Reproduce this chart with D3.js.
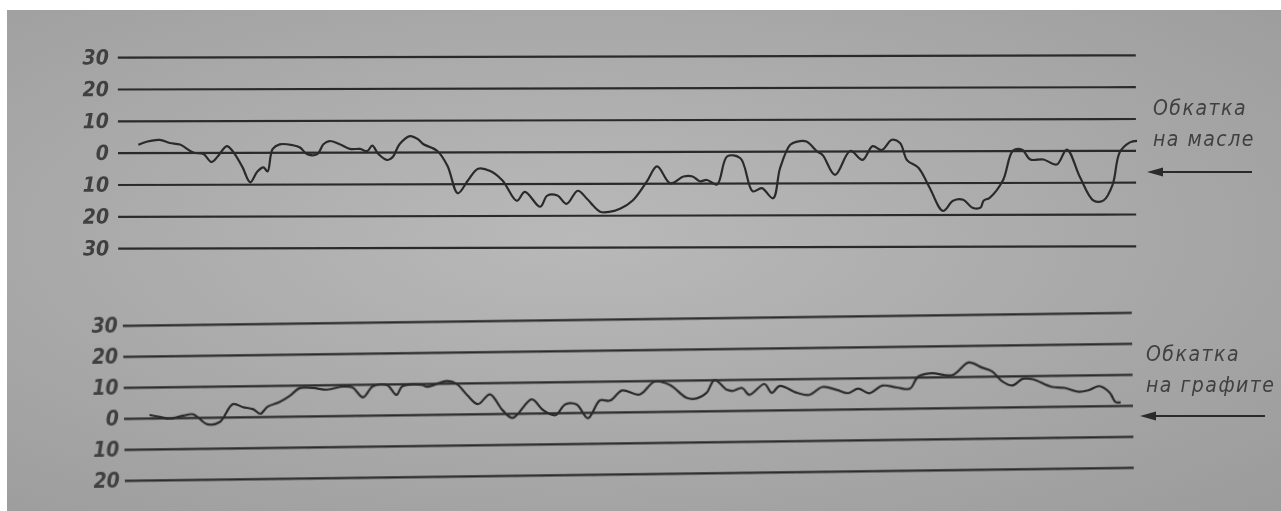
<!DOCTYPE html>
<html>
<head>
<meta charset="utf-8">
<script src="https://cdn.jsdelivr.net/npm/d3@7"></script>
<style>
  body { margin: 0; background: #fff; }
  svg { display: block; }
</style>
</head>
<body>
<div id="chart"></div>
<script>
// run-in traces (x in % of record length)
var oilT = [2.0, 2.9, 4.1, 5.1, 6.1, 7.4, 8.4, 9.2, 9.8, 10.7, 11.3, 12.2, 13.0, 13.7, 14.3, 14.7, 15.2, 15.9, 17.2, 17.9,
  18.6, 19.6, 20.2, 20.8, 21.8, 22.8, 23.8, 24.5, 25.0, 25.6, 26.5, 27.0, 27.7, 28.7, 29.5, 30.0, 31.4, 32.4, 33.4, 34.4,
  35.4, 36.6, 37.8, 39.2, 40.0, 41.5, 42.2, 43.2, 44.1, 45.2, 46.1, 47.4, 48.4, 49.4, 50.6, 52.0, 53.0, 54.3, 55.6, 56.5,
  57.2, 57.9, 58.9, 59.9, 61.2, 62.4, 63.3, 64.4, 65.1, 66.1, 66.8, 67.7, 68.7, 69.3, 70.5, 72.0, 73.2, 74.2, 75.1, 76.1,
  76.9, 77.6, 78.7, 79.8, 81.1, 82.1, 83.1, 84.0, 84.8, 85.1, 85.7, 87.0, 88.0, 88.9, 89.7, 91.0, 92.3, 93.3, 94.6, 95.9,
  96.9, 97.8, 98.5, 99.5, 100.2];
var oilV = [2.5, 3.5, 4, 3, 2.5, 0, -0.5, -3, -1.3, 2, 0.3, -4.4, -9.4, -6, -4.7, -6, 1, 2.5, 2.2, 1.5,
  -0.6, -0.6, 2.5, 3.5, 2.5, 1, 1, 0.3, 2, -0.6, -2.5, -1.6, 2.5, 5, 4, 2.5, 0.3, -4.4, -13, -9,
  -5.3, -6, -9, -15.4, -12.6, -17.3, -13.8, -13.8, -16.4, -12.3, -14.8, -18.9, -18.9, -17.9, -15.4, -9.4, -4.7, -10, -7.9, -7.9,
  -9.4, -9, -10.4, -1.6, -2.2, -12.6, -11.6, -14.8, -5.3, 2, 3, 3, 0, -1.3, -7.5, 0, -2.8, 1.5, 0.3, 3.5,
  2.5, -3, -5.3, -11.6, -18.9, -15.7, -15.4, -17.9, -17.9, -15.7, -14.8, -9.4, 0, 0.3, -2.8, -2.8, -4.4, 0.3, -8.5, -15.7,
  -15.7, -10.7, -0.6, 2.5, 3];

var graphT = [3.1, 4.1, 5.1, 6.4, 7.4, 8.8, 10.0, 11.3, 12.3, 13.3, 14.0, 14.7, 15.9, 16.9, 17.9, 19.2, 20.6, 22.1, 23.1, 24.1,
  25.1, 26.5, 27.4, 28.0, 30.0, 30.4, 32.4, 33.3, 34.4, 35.4, 36.6, 37.8, 38.8, 40.7, 41.8, 43.0, 44.0, 45.1, 46.2, 47.4,
  48.4, 49.6, 51.3, 52.8, 54.3, 55.9, 56.9, 57.9, 58.7, 59.9, 60.5, 61.4, 62.1, 63.6, 64.3, 65.1, 66.8, 68.0, 69.3, 70.7,
  71.8, 72.8, 73.9, 75.2, 76.6, 77.9, 78.7, 80.0, 82.1, 83.7, 85.0, 86.0, 87.0, 88.0, 89.0, 90.0, 91.8, 93.1, 94.5, 95.5,
  96.5, 97.5, 98.1, 98.6];
var graphV = [1, 0.3, -0.3, 0.6, 1, -2.3, -1.6, 4.1, 3.1, 2.4, 0.9, 3.1, 4.6, 6.5, 9, 9, 8.4, 9.3, 9, 5.8,
  9.3, 9.6, 6.4, 9.2, 9.5, 8.9, 10.7, 9.8, 5.9, 3.1, 6.2, 1.1, -1.5, 4.4, 0.9, -0.8, 2.7, 2.6, -1.9, 3.8,
  3.7, 6.9, 5.5, 9.6, 8.5, 4.3, 4, 5.8, 9.9, 6.7, 6.3, 7.2, 5, 8.4, 5.5, 7.7, 5.4, 4.7, 7.2, 6.2,
  5.1, 6.5, 5, 7.4, 6.7, 6.3, 10.1, 11.2, 10.5, 14.5, 12.8, 11.5, 8.2, 6.9, 9, 8.8, 6.3, 5.9, 4.6, 5.1,
  6.3, 4.3, 1.1, 1];

var topTicks = [30, 20, 10, 0, -10, -20, -30];
var topTickLabels = ["30", "20", "10", "0", "10", "20", "30"];
var bottomTicks = [30, 20, 10, 0, -10, -20];
var bottomTickLabels = ["30", "20", "10", "0", "10", "20"];
var oilLabel = ["Обкатка", "на масле"];
var graphLabel = ["Обкатка", "на графите"];

var w = 1281, h = 511;
var ink = "#2b2b2b";
var font = "'DejaVu Sans Condensed', 'DejaVu Sans', sans-serif";

var svg = d3.select("#chart").append("svg")
  .attr("width", w)
  .attr("height", h);

var defs = svg.append("defs");
var grad = defs.append("radialGradient").attr("id", "paper")
  .attr("cx", "45%").attr("cy", "45%").attr("r", "80%");
grad.append("stop").attr("offset", "0%").attr("stop-color", "#b9b9b9");
grad.append("stop").attr("offset", "100%").attr("stop-color", "#9a9a9a");
defs.append("filter").attr("id", "soft")
  .append("feGaussianBlur").attr("stdDeviation", 0.7);

svg.append("rect")
  .attr("x", 7).attr("y", 10)
  .attr("width", w - 7).attr("height", h - 10)
  .attr("fill", "url(#paper)");

var x = d3.scaleLinear().domain([0, 100]).range([118, 1135]);
var yTop = d3.scaleLinear().domain([-30, 30]).range([247, 56]);
var yBot = d3.scaleLinear().domain([-20, 30]).range([473.8, 318.8]);

var line = d3.line()
  .curve(d3.curveCatmullRom.alpha(0.5));

function panel(g, y, ticks, labels, x0, x1, pad, t, v) {
  var axis = d3.axisLeft(y)
    .tickValues(ticks)
    .tickSize(-(x1 - x0))
    .tickPadding(pad)
    .tickFormat(function(d, i) { return labels[i]; });

  var ax = g.append("g")
    .attr("transform", "translate(" + x0 + ",0)")
    .call(axis);
  ax.select(".domain").remove();
  ax.selectAll(".tick line")
    .attr("stroke", ink)
    .attr("stroke-width", 2.2);
  ax.selectAll(".tick text")
    .attr("fill", "#404040")
    .attr("font-family", font)
    .attr("font-stretch", "condensed")
    .attr("font-style", "italic")
    .attr("font-weight", "bold")
    .attr("font-size", 21);

  var pts = t.map(function(d, i) { return [x(d), y(v[i])]; });
  g.append("path")
    .attr("d", line(pts))
    .attr("fill", "none")
    .attr("stroke", ink)
    .attr("stroke-width", 2.2)
    .attr("stroke-linejoin", "round");
}

var root = svg.append("g").attr("filter", "url(#soft)");

var gTop = root.append("g").attr("transform", "rotate(-0.13,628,151.5)");
panel(gTop, yTop, topTicks, topTickLabels, 118, 1136, 9, oilT, oilV);

var gBot = root.append("g").attr("transform", "rotate(-0.74,628,411.8)");
panel(gBot, yBot, bottomTicks, bottomTickLabels, 124, 1133, 5, graphT, graphV);

function note(lines, tx, ty, ay, ax0, ax1) {
  var t = root.append("text")
    .attr("font-family", font)
    .attr("font-stretch", "condensed")
    .attr("font-style", "italic")
    .attr("font-size", 21)
    .attr("letter-spacing", 1.5)
    .attr("fill", "#404040");
  lines.forEach(function(s, i) {
    t.append("tspan").attr("x", tx).attr("y", ty + i * 31).text(s);
  });
  root.append("line")
    .attr("x1", ax0 + 12).attr("x2", ax1)
    .attr("y1", ay).attr("y2", ay)
    .attr("stroke", ink).attr("stroke-width", 2.2);
  root.append("path")
    .attr("d", "M" + ax0 + "," + ay + "L" + (ax0 + 16) + "," + (ay - 4.5) + "L" + (ax0 + 16) + "," + (ay + 4.5) + "Z")
    .attr("fill", ink);
}

note(oilLabel, 1153, 115, 172, 1147, 1252);
note(graphLabel, 1146, 361, 416, 1140, 1265);
</script>
</body>
</html>
